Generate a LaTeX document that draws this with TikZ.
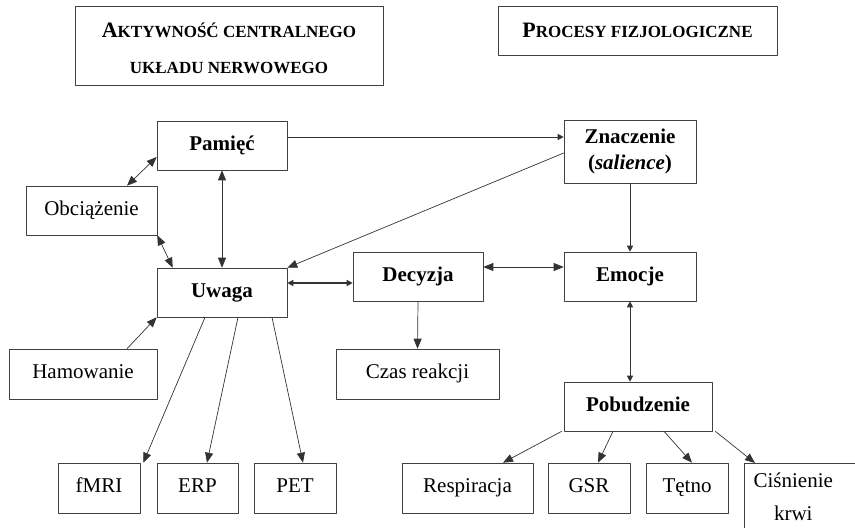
\documentclass[tikz,border=0pt]{standalone}
\usepackage{fontspec}
\setmainfont{Liberation Serif}
\usetikzlibrary{arrows.meta}
\tikzset{
  ramka/.style={draw=black!75, line width=0.6pt, minimum height=49pt, inner sep=2pt,
    font=\fontsize{21}{25}\selectfont},
  blok/.style={ramka, text height=14pt, text depth=5pt},
  gruby/.style={blok, font=\fontsize{21}{25}\selectfont\bfseries},
  tytul/.style={draw=black!75, line width=0.8pt, align=center, inner sep=0pt,
    font=\fontsize{17}{36}\selectfont\bfseries},
  strz/.style={draw=black!80, line width=0.7pt},
  mala/.style={strz, >={Triangle[length=6pt,width=6pt]}}
}
\newcommand{\duza}[1]{{\fontsize{22}{24}\selectfont #1}}

\begin{document}
\begin{tikzpicture}[line join=round,>={Triangle[length=10pt,width=8pt]},x=1pt,y=-1pt]
\useasboundingbox (0,0) rectangle (855,528);
\clip (0,0) rectangle (855,528);
% naglowki
\node[tytul, minimum width=308pt, minimum height=79pt] (cns) at (229,45.5)
  {\rule{0pt}{20pt}\duza{A}KTYWNOŚĆ CENTRALNEGO\\UKŁADU NERWOWEGO};
\node[tytul, minimum width=279pt, minimum height=49pt] (fiz) at (637.5,30.5)
  {\duza{P}ROCESY FIZJOLOGICZNE};
% bloki
\node[gruby, minimum width=130pt] (pam) at (222,145.5) {Pamięć};
\node[blok, minimum width=131pt] (obc) at (91.5,210.5) {Obciążenie};
\node[gruby, minimum width=130pt] (uwaga) at (222,292.5) {Uwaga};
\node[ramka, font=\fontsize{21}{25}\selectfont\bfseries, minimum width=132pt,
  minimum height=63pt, align=center] (znacz) at (630,151.5)
  {Znaczenie\\[1pt](\textit{salience})};
\node[gruby, minimum width=130pt] (dec) at (418,276.5) {Decyzja};
\node[gruby, minimum width=132pt] (emo) at (630,276.5) {Emocje};
\node[blok, minimum width=148pt, minimum height=50pt] (ham) at (83,374) {Hamowanie};
\node[blok, minimum width=163pt, minimum height=50pt] (czas) at (417.5,374) {Czas reakcji};
\node[gruby, minimum width=148pt] (pob) at (638,406.5) {Pobudzenie};
\node[blok, minimum width=82pt, minimum height=50pt] (fmri) at (99,488) {fMRI};
\node[blok, minimum width=81pt, minimum height=50pt] (erp) at (197.5,488) {ERP};
\node[blok, minimum width=82pt, minimum height=50pt] (pet) at (295,488) {PET};
\node[blok, minimum width=131pt, minimum height=50pt] (resp) at (467.5,488) {Respiracja};
\node[blok, minimum width=82pt, minimum height=50pt] (gsr) at (589,488) {GSR};
\node[blok, minimum width=82pt, minimum height=50pt] (tetno) at (687,488) {Tętno};
\node[ramka, anchor=north west, inner xsep=0pt, minimum height=72pt] (cisn) at (744,463)
  {\makebox[98pt]{\begin{tabular}{@{}c@{}}Ciśnienie\\[8pt]krwi\end{tabular}}\hspace*{40pt}};
% polaczenia
\draw[strz,<->] ([yshift=-11.5pt]pam.west) -- ([xshift=35.5pt]obc.north);
\draw[strz,<->] (obc.south east) -- ([xshift=16pt]uwaga.north west);
\draw[strz,<->] (pam.south) -- (uwaga.north);
\draw[mala,->] ([yshift=8.5pt]pam.east) -- ([yshift=14.5pt]znacz.west);
\draw[strz,->] ([yshift=-1.5pt]znacz.west) -- (uwaga.north east);
\draw[mala,<->,line width=1.3pt] ([yshift=9.5pt]uwaga.east) -- ([yshift=-6.5pt]dec.west);
\draw[strz,<->] ([yshift=9.5pt]dec.east) -- ([yshift=9.5pt]emo.west);
\draw[mala,->] (znacz.south) -- (emo.north);
\draw[strz,->] (dec.south) -- (czas.north);
\draw[mala,<->] (emo.south) -- ([xshift=-8pt]pob.north);
\draw[strz,->] ([xshift=44pt]ham.north) -- (uwaga.south west);
\draw[strz,->] ([xshift=-17pt]uwaga.south) -- ([xshift=3pt]fmri.north east);
\draw[strz,->] ([xshift=16pt]uwaga.south) -- ([xshift=9.5pt]erp.north);
\draw[strz,->] ([xshift=50pt]uwaga.south) -- ([xshift=8pt]pet.north);
\draw[strz,->] ([xshift=-2pt]pob.south west) -- ([xshift=35.5pt]resp.north);
\draw[strz,->] ([xshift=-25pt]pob.south) -- ([xshift=9pt]gsr.north);
\draw[strz,->] ([xshift=26pt]pob.south) -- ([xshift=5pt]tetno.north);
\draw[strz,->] ([xshift=3pt]pob.south east) -- ([xshift=11pt]cisn.north west);
\end{tikzpicture}
\end{document}
